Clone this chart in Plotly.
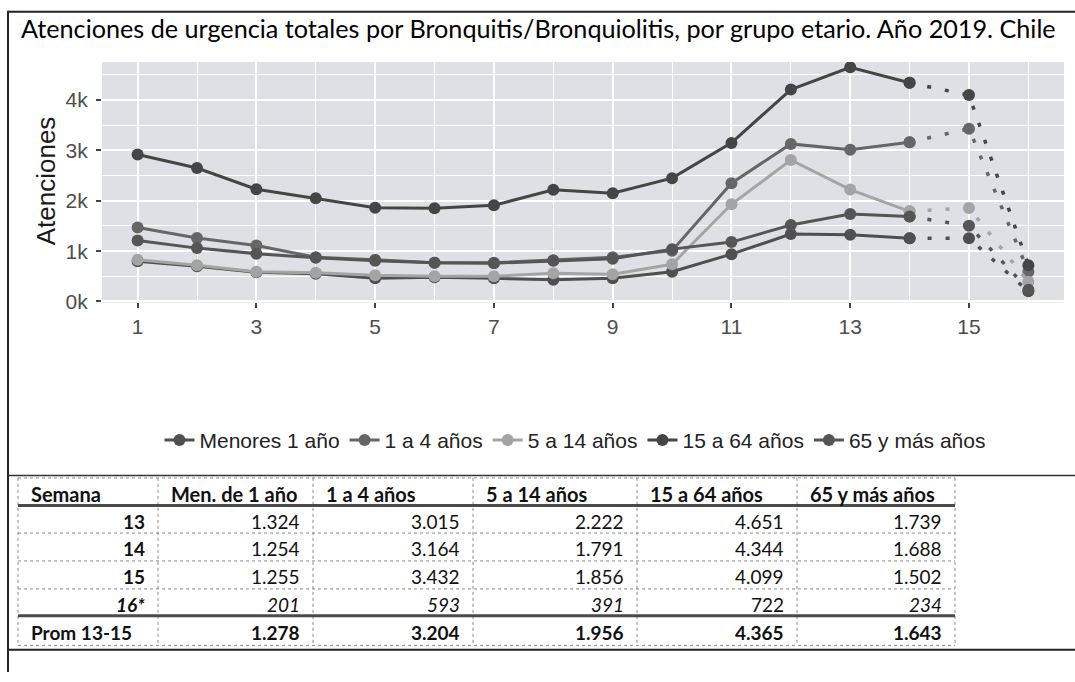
import plotly.graph_objects as go

# ---------------- data ----------------
semanas = list(range(1, 17))
series_nombres = ["Menores 1 año", "1 a 4 años", "5 a 14 años", "15 a 64 años", "65 y más años"]
menores_1 = [800, 700, 580, 550, 460, 480, 460, 430, 460, 590, 940, 1340, 1324, 1254, 1255, 201]
de_1_a_4 = [1470, 1260, 1110, 880, 830, 770, 770, 820, 880, 1010, 2350, 3130, 3015, 3164, 3432, 593]
de_5_a_14 = [830, 720, 590, 570, 520, 500, 500, 560, 540, 740, 1930, 2810, 2222, 1791, 1856, 391]
de_15_a_64 = [2920, 2650, 2230, 2050, 1860, 1850, 1910, 2220, 2150, 2450, 3150, 4210, 4651, 4344, 4099, 722]
mas_65 = [1210, 1060, 950, 870, 810, 770, 760, 810, 850, 1040, 1180, 1520, 1739, 1688, 1502, 234]
x_ticks = [1, 3, 5, 7, 9, 11, 13, 15]
y_ticks = [0, 1000, 2000, 3000, 4000]
y_ticktext = ["0k", "1k", "2k", "3k", "4k"]

tabla_header = ["Semana", "Men. de 1 año", "1 a 4 años", "5 a 14 años", "15 a 64 años", "65 y más años"]
tabla_semana = ["13", "14", "15", "16*", "Prom 13-15"]
tabla_menores = [1324, 1254, 1255, 201, 1278]
tabla_1_4 = [3015, 3164, 3432, 593, 3204]
tabla_5_14 = [2222, 1791, 1856, 391, 1956]
tabla_15_64 = [4651, 4344, 4099, 722, 4365]
tabla_65 = [1739, 1688, 1502, 234, 1643]

titulo = "Atenciones de urgencia totales por Bronquitis/Bronquiolitis, por grupo etario. Año 2019. Chile"

# ---------------- helpers ----------------
W, H = 1075, 682
def px(x):
    return x / W
def py(y):
    return 1 - y / H

colores = ["#4f4f4f", "#666666", "#a4a4a4", "#454545", "#555555"]
valores = [menores_1, de_1_a_4, de_5_a_14, de_15_a_64, mas_65]

fig = go.Figure()
for nombre, vals, col in zip(series_nombres, valores, colores):
    fig.add_trace(go.Scatter(
        x=semanas[:14], y=vals[:14], mode="lines+markers", name=nombre,
        legendgroup=nombre, line=dict(color=col, width=3),
        marker=dict(color=col, size=12), showlegend=True))
for nombre, vals, col in zip(series_nombres, valores, colores):
    fig.add_trace(go.Scatter(
        x=semanas[13:], y=vals[13:], mode="lines+markers", name=nombre,
        legendgroup=nombre, line=dict(color=col, width=3.5, dash="4px,14px"),
        marker=dict(color=col, size=12), showlegend=False))


def fmt(v):
    return f"{v:,}".replace(",", ".")

def estilo(vals, italic_rows, bold_rows):
    out = []
    for i, v in enumerate(vals):
        s = v if isinstance(v, str) else fmt(v)
        if i in italic_rows:
            s = f"<i>{s}</i>"
        if i in bold_rows:
            s = f"<b>{s}</b>"
        out.append(s)
    return out

tabla_cols = [
    estilo(tabla_semana, {3}, {0, 1, 2, 3, 4}),
    estilo(tabla_menores, {3}, {4}),
    estilo(tabla_1_4, {3}, {4}),
    estilo(tabla_5_14, {3}, {4}),
    estilo(tabla_15_64, set(), {4}),
    estilo(tabla_65, {3}, {4}),
]

# ---------------- table drawn with shapes + annotations ----------------
edges_x = [18, 158, 313, 473, 637, 797, 955]
edges_y = [485, 513, 541, 569.3, 597.7, 625, 655]
grid_line = dict(color="#8a8a8a", width=1, dash="dot")
shapes = []
for ex in edges_x:
    shapes.append(dict(type="line", xref="paper", yref="paper", x0=px(ex), x1=px(ex),
                       y0=py(edges_y[0]), y1=py(edges_y[-1]), line=grid_line))
for ey in edges_y:
    shapes.append(dict(type="line", xref="paper", yref="paper", x0=px(edges_x[0]), x1=px(edges_x[-1]),
                       y0=py(ey), y1=py(ey), line=grid_line))
for ey in (edges_y[1], edges_y[5]):
    shapes.append(dict(type="line", xref="paper", yref="paper", x0=px(edges_x[0]), x1=px(edges_x[-1]),
                       y0=py(ey), y1=py(ey), line=dict(color="#4a4a4a", width=3)))
# frame
shapes += [
    dict(type="line", xref="paper", yref="paper", x0=px(8), x1=1, y0=py(12), y1=py(12),
         line=dict(color="#222", width=2)),
    dict(type="line", xref="paper", yref="paper", x0=px(8), x1=px(8), y0=py(11), y1=0,
         line=dict(color="#222", width=2)),
    dict(type="line", xref="paper", yref="paper", x0=px(8), x1=1, y0=py(482.5), y1=py(482.5),
         line=dict(color="#333", width=1.5)),
    dict(type="line", xref="paper", yref="paper", x0=px(8), x1=1, y0=py(659.5), y1=py(659.5),
         line=dict(color="#222", width=2)),
]

tfont = dict(family="Lato", size=19, color="#111")
hfont = dict(family="Lato", size=20, color="#111")
annotations = []
for i, h in enumerate(tabla_header):
    annotations.append(dict(text=f"<b>{h}</b>", x=px(edges_x[i] + 11),
                            y=py((edges_y[0] + edges_y[1]) / 2 + 2),
                            xref="paper", yref="paper", xanchor="left", yanchor="middle",
                            showarrow=False, font=hfont))
for c, col in enumerate(tabla_cols):
    for r, txt in enumerate(col):
        yc = (edges_y[r + 1] + edges_y[r + 2]) / 2 + 2
        if c == 0 and r == len(col) - 1:
            xa, xx = "left", px(edges_x[0] + 11)
        else:
            xa, xx = "right", px(edges_x[c + 1] - 11)
        annotations.append(dict(text=txt, x=xx, y=py(yc), xref="paper", yref="paper",
                                xanchor=xa, yanchor="middle", showarrow=False, font=tfont))

annotations += [
    dict(text=titulo, x=px(19), y=py(28), xref="paper", yref="paper",
         xanchor="left", yanchor="middle", showarrow=False,
         font=dict(family="Lato", size=25.2, color="#000")),
    dict(text="Atenciones", x=px(46), y=py(184), xref="paper", yref="paper",
         xanchor="center", yanchor="middle", textangle=-90, showarrow=False,
         font=dict(family="Liberation Sans", size=26, color="#1a1a1a")),
]

fig.update_layout(
    width=W, height=H,
    margin=dict(l=0, r=0, t=0, b=0),
    paper_bgcolor="white", plot_bgcolor="#dfe0e5",
    showlegend=True,
    legend=dict(orientation="h", x=px(575), xanchor="center", y=py(447), yanchor="middle",
                font=dict(family="Liberation Sans", size=21, color="#222"),
                bgcolor="rgba(0,0,0,0)", traceorder="normal"),
    xaxis=dict(domain=[px(102), px(1064)], range=[0.4, 16.6], tickmode="array",
               tickvals=x_ticks, ticks="outside", ticklen=5, tickwidth=1.5, tickcolor="#444",
               tickfont=dict(family="Liberation Sans", size=21, color="#4d4d4d"),
               showgrid=True, gridcolor="white", gridwidth=2, zeroline=False, showline=False,
               minor=dict(tickmode="array", tickvals=[2, 4, 6, 8, 10, 12, 14, 16],
                          showgrid=True, gridcolor="white", gridwidth=1, ticks="")),
    yaxis=dict(domain=[py(307), py(63)], range=[-20, 4755], tickmode="array",
               tickvals=y_ticks, ticktext=y_ticktext, ticks="outside", ticklen=5,
               tickwidth=1.5, tickcolor="#444", ticklabelstandoff=4,
               tickfont=dict(family="Liberation Sans", size=21, color="#4d4d4d"),
               showgrid=True, gridcolor="white", gridwidth=2, zeroline=False, showline=False,
               minor=dict(tickmode="array", tickvals=[500, 1500, 2500, 3500, 4500],
                          showgrid=True, gridcolor="white", gridwidth=1, ticks="")),
    shapes=shapes,
    annotations=annotations,
)

fig.write_html("out.html", config={"displayModeBar": False},
               post_script="document.body.style.margin='0';document.body.style.overflow='hidden';")
